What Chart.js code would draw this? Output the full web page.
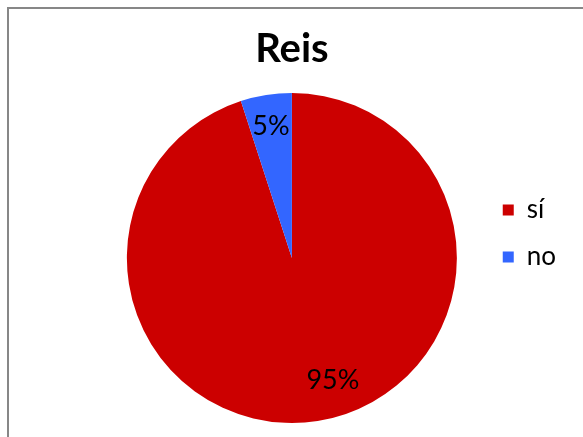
<!DOCTYPE html>
<html>
<head>
<meta charset="utf-8">
<script src="https://cdn.jsdelivr.net/npm/chart.js@4/dist/chart.umd.min.js"></script>
<style>
  html, body { margin: 0; padding: 0; background: #fff; }
  body { width: 583px; height: 437px; position: relative; overflow: hidden; }
  #frame { position: absolute; left: 7px; top: 7px; width: 700px; height: 600px; border-left: 2px solid #878787; border-top: 2px solid #878787; }
  #wrap { position: absolute; left: 0; top: 0; width: 583px; height: 437px; }
</style>
</head>
<body>
<div id="frame"></div>
<div id="wrap"><canvas id="chart_pie_canvas"></canvas></div>
<script>
const chartTitle = 'Reis';
const categories = ['sí', 'no'];
const values = [95, 5];
const valueLabels = ['95%', '5%'];
const sliceColors = ['#CC0000', '#3366FF'];

// where the percentage text sits inside each slice
const labelRadius = [0.78, 0.81];
const labelAngleShift = [-9.6, 0];

const sliceLabels = {
    id: 'sliceLabels',
    afterDatasetsDraw(chart) {
        const ctx = chart.ctx;
        const arcs = chart.getDatasetMeta(0).data;
        ctx.save();
        ctx.font = '27px Lato';
        ctx.fillStyle = '#000';
        ctx.textAlign = 'center';
        ctx.textBaseline = 'middle';
        arcs.forEach((arc, i) => {
            const mid = (arc.startAngle + arc.endAngle) / 2 + labelAngleShift[i] * Math.PI / 180;
            const r = arc.outerRadius * labelRadius[i];
            ctx.fillText(valueLabels[i], arc.x + Math.cos(mid) * r, arc.y + Math.sin(mid) * r);
        });
        ctx.restore();
    }
};

document.addEventListener('DOMContentLoaded', () => {
    const ctx = document.getElementById('chart_pie_canvas').getContext('2d');
    new Chart(ctx, {
        type: 'pie',
        data: {
            labels: categories,
            datasets: [{
                data: values,
                backgroundColor: sliceColors,
                borderWidth: 0
            }]
        },
        plugins: [sliceLabels],
        options: {
            responsive: true,
            maintainAspectRatio: false,
            animation: false,
            layout: {
                padding: { top: 44, left: 102, right: 17, bottom: 14 }
            },
            plugins: {
                title: {
                    display: true,
                    text: chartTitle,
                    fullSize: false,
                    color: '#000',
                    font: { family: 'Lato', size: 40, weight: 'bold' },
                    padding: { top: -19, bottom: 20 }
                },
                legend: {
                    position: 'right',
                    labels: {
                        boxWidth: 11,
                        boxHeight: 11,
                        padding: 21,
                        color: '#000',
                        font: { family: 'Lato', size: 26 }
                    }
                },
                tooltip: { enabled: false }
            }
        }
    });
});
</script>
</body>
</html>
